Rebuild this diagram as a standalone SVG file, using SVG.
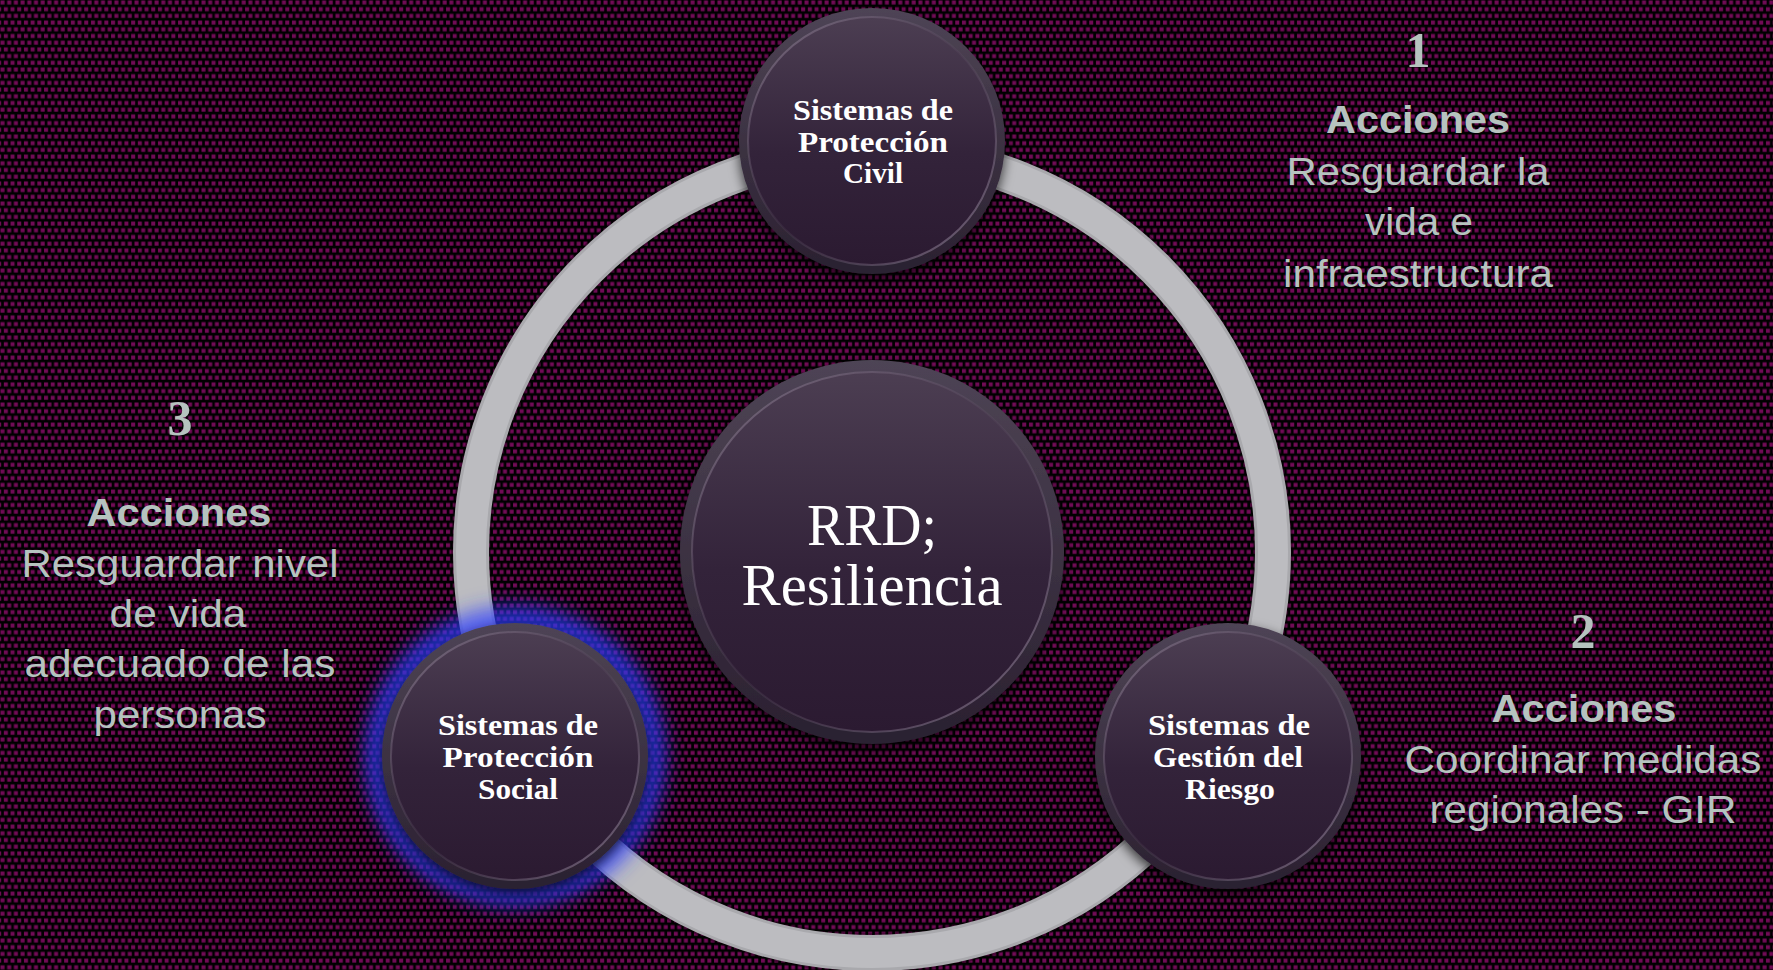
<svg xmlns="http://www.w3.org/2000/svg" width="1773" height="970" viewBox="0 0 1773 970">
<defs>
  <pattern id="bg" width="6.7" height="13.4" patternUnits="userSpaceOnUse">
    <rect width="6.7" height="13.4" fill="#000"/>
    <rect x="0.5" y="0.5" width="4" height="4" fill="#710b56"/>
    <rect x="3.85" y="7.2" width="4" height="4" fill="#710b56"/>
    <rect x="-2.85" y="7.2" width="4" height="4" fill="#710b56"/>
  </pattern>
  <linearGradient id="outerG" x1="0" y1="0" x2="0" y2="1">
    <stop offset="0" stop-color="#4e4455"/>
    <stop offset="1" stop-color="#2a2030"/>
  </linearGradient>
  <linearGradient id="innerG" x1="0" y1="0" x2="0" y2="1">
    <stop offset="0" stop-color="#4c3e52"/>
    <stop offset="0.55" stop-color="#33233a"/>
    <stop offset="1" stop-color="#2b1a31"/>
  </linearGradient>
  <linearGradient id="rimG" x1="0" y1="0" x2="1" y2="1">
    <stop offset="0" stop-color="#a898ae" stop-opacity="0.55"/>
    <stop offset="0.5" stop-color="#6c5c72" stop-opacity="0.15"/>
    <stop offset="1" stop-color="#b4a4bc" stop-opacity="0.6"/>
  </linearGradient>
  <filter id="shadow" x="-20%" y="-20%" width="140%" height="140%">
    <feDropShadow dx="0" dy="5" stdDeviation="6" flood-color="#000" flood-opacity="0.7"/>
  </filter>
  <filter id="glow" x="-30%" y="-30%" width="160%" height="160%">
    <feGaussianBlur stdDeviation="10"/>
  </filter>
  <style>
    .outer { fill: url(#outerG); filter: url(#shadow); }
    .inner { fill: url(#innerG); stroke: url(#rimG); stroke-width: 2; }
    .ntxt { font-family: "Liberation Serif", "Times New Roman", serif; font-weight: bold; font-size: 30px; fill: #ffffff; text-anchor: middle; }
    .ctxt { font-family: "Liberation Serif", "Times New Roman", serif; font-size: 60px; fill: #ffffff; text-anchor: middle; }
    .num { font-family: "Liberation Serif", "Times New Roman", serif; font-weight: bold; font-size: 50px; fill: #b6c3bf; text-anchor: middle; }
    .hd { font-family: "Liberation Sans", Arial, sans-serif; font-weight: bold; font-size: 38px; fill: #b6c3bf; text-anchor: middle; }
    .bd { font-family: "Liberation Sans", Arial, sans-serif; font-size: 38px; fill: #b6c3bf; text-anchor: middle; }
  </style>
</defs>

<rect x="0" y="0" width="1773" height="970" fill="url(#bg)"/>

<g id="connectors">
  <circle cx="872" cy="552" r="401" fill="none" stroke="#000" stroke-opacity="0.35" stroke-width="40"/>
  <circle cx="872" cy="552" r="401" fill="none" stroke="#a9a9ad" stroke-width="36"/>
  <circle cx="872" cy="552" r="401" fill="none" stroke="#bcbcc0" stroke-width="30"/>
</g>

<g id="node-civil">
  <circle class="outer" cx="872" cy="141" r="133"/>
  <circle class="inner" cx="872" cy="141" r="124"/>
  <text class="ntxt" x="873" y="120" textLength="160" lengthAdjust="spacingAndGlyphs">Sistemas de</text>
  <text class="ntxt" x="873" y="152" textLength="150" lengthAdjust="spacingAndGlyphs">Protección</text>
  <text class="ntxt" x="873" y="183" textLength="60" lengthAdjust="spacingAndGlyphs">Civil</text>
</g>

<g id="node-center">
  <circle class="outer" cx="872" cy="552" r="192"/>
  <circle class="inner" cx="872" cy="552" r="180"/>
  <text class="ctxt" x="872" y="545" textLength="130" lengthAdjust="spacingAndGlyphs">RRD;</text>
  <text class="ctxt" x="872" y="605" textLength="261" lengthAdjust="spacingAndGlyphs">Resiliencia</text>
</g>

<g id="node-social">
  <circle cx="515" cy="756" r="150" fill="#2f3cff" fill-opacity="0.75" filter="url(#glow)"/>
  <circle class="outer" cx="515" cy="756" r="133"/>
  <circle class="inner" cx="515" cy="756" r="124"/>
  <text class="ntxt" x="518" y="735" textLength="160" lengthAdjust="spacingAndGlyphs">Sistemas de</text>
  <text class="ntxt" x="518" y="767" textLength="151" lengthAdjust="spacingAndGlyphs">Protección</text>
  <text class="ntxt" x="518" y="799" textLength="80" lengthAdjust="spacingAndGlyphs">Social</text>
</g>

<g id="node-riesgo">
  <circle class="outer" cx="1228" cy="756" r="133"/>
  <circle class="inner" cx="1228" cy="756" r="124"/>
  <text class="ntxt" x="1229" y="735" textLength="162" lengthAdjust="spacingAndGlyphs">Sistemas de</text>
  <text class="ntxt" x="1228" y="767" textLength="150" lengthAdjust="spacingAndGlyphs">Gestión del</text>
  <text class="ntxt" x="1230" y="799" textLength="90" lengthAdjust="spacingAndGlyphs">Riesgo</text>
</g>

<g id="label-1">
  <text class="num" x="1418" y="67">1</text>
  <text class="hd" x="1418" y="133" textLength="184" lengthAdjust="spacingAndGlyphs">Acciones</text>
  <text class="bd" x="1418" y="185" textLength="263" lengthAdjust="spacingAndGlyphs">Resguardar la</text>
  <text class="bd" x="1419" y="235" textLength="108" lengthAdjust="spacingAndGlyphs">vida e</text>
  <text class="bd" x="1418" y="287" textLength="270" lengthAdjust="spacingAndGlyphs">infraestructura</text>
</g>

<g id="label-2">
  <text class="num" x="1583" y="648">2</text>
  <text class="hd" x="1584" y="722" textLength="185" lengthAdjust="spacingAndGlyphs">Acciones</text>
  <text class="bd" x="1583" y="773" textLength="357" lengthAdjust="spacingAndGlyphs">Coordinar medidas</text>
  <text class="bd" x="1583" y="823" textLength="307" lengthAdjust="spacingAndGlyphs">regionales - GIR</text>
</g>

<g id="label-3">
  <text class="num" x="180" y="435">3</text>
  <text class="hd" x="179" y="526" textLength="185" lengthAdjust="spacingAndGlyphs">Acciones</text>
  <text class="bd" x="180" y="577" textLength="317" lengthAdjust="spacingAndGlyphs">Resguardar nivel</text>
  <text class="bd" x="178" y="627" textLength="137" lengthAdjust="spacingAndGlyphs">de vida</text>
  <text class="bd" x="180" y="677" textLength="311" lengthAdjust="spacingAndGlyphs">adecuado de las</text>
  <text class="bd" x="180" y="728" textLength="173" lengthAdjust="spacingAndGlyphs">personas</text>
</g>
</svg>
